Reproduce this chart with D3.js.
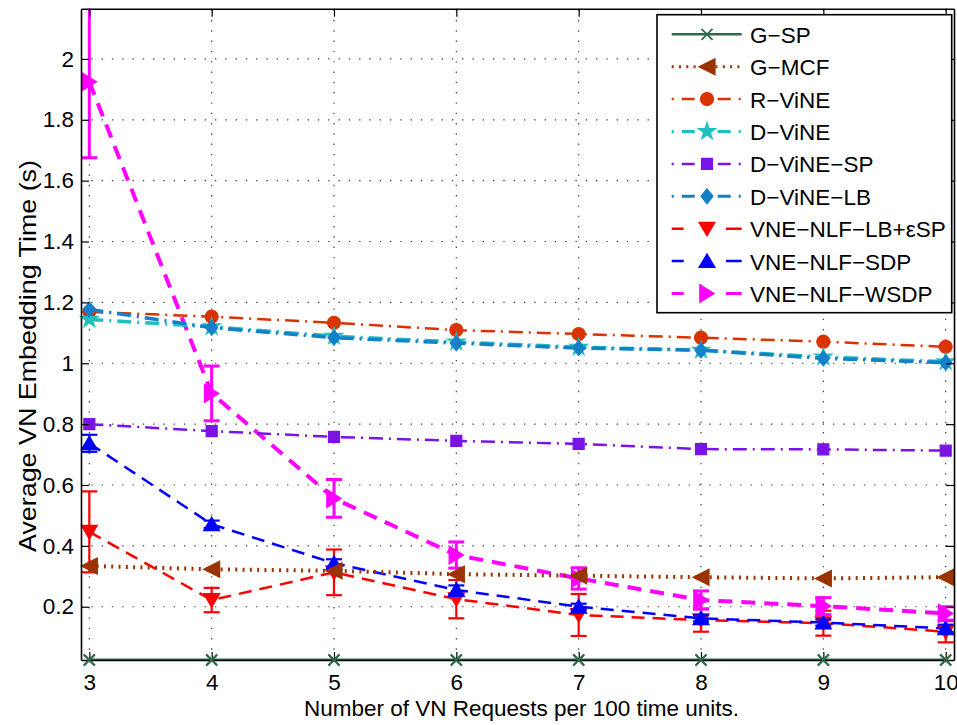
<!DOCTYPE html>
<html>
<head>
<meta charset="utf-8">
<script src="https://cdn.jsdelivr.net/npm/d3@7"></script>
<style>
    body { margin: 0; background: #fff; }
    svg { display: block; font-family: "Liberation Sans", Arial, Helvetica, sans-serif; }
</style>
</head>
<body>
<svg id="chart" width="957" height="725"></svg>
<script>
(function(){
    'use strict';

    /*******************************************************************
     *                              DATA                               *
     *******************************************************************/

    //Number of VN requests per 100 time units (x axis)
    var requests = [3, 4, 5, 6, 7, 8, 9, 10];

    var xTicks = [3, 4, 5, 6, 7, 8, 9, 10];
    var yTicks = [0.2, 0.4, 0.6, 0.8, 1, 1.2, 1.4, 1.6, 1.8, 2];

    //Average embedding time (s)
    var gSp     = [0.025, 0.025, 0.025, 0.025, 0.025, 0.025, 0.025, 0.025];
    var gMcf    = [0.334, 0.323, 0.318, 0.307, 0.302, 0.297, 0.293, 0.297];
    var rVine   = [1.169, 1.153, 1.133, 1.109, 1.096, 1.084, 1.071, 1.054];
    var dVine   = [1.144, 1.120, 1.089, 1.070, 1.053, 1.043, 1.021, 1.005];
    var dVineSp = [0.800, 0.777, 0.758, 0.745, 0.735, 0.718, 0.717, 0.713];
    var dVineLb = [1.177, 1.117, 1.084, 1.066, 1.050, 1.043, 1.016, 1.002];

    //Series with error bars (value, half-length of the bar)
    var nlfLbSp    = [0.446, 0.222, 0.313, 0.225, 0.173, 0.156, 0.146, 0.118];
    var nlfLbSpErr = [0.133, 0.040, 0.075, 0.063, 0.069, 0.038, 0.041, 0.035];
    var nlfSdp     = [0.737, 0.471, 0.343, 0.255, 0.200, 0.162, 0.148, 0.129];
    var nlfSdpErr  = [0.028, 0.012, 0.013, 0.015, 0.010, 0.010, 0.010, 0.012];
    var nlfWsdp    = [1.925, 0.901, 0.556, 0.370, 0.293, 0.222, 0.202, 0.178];
    var nlfWsdpErr = [0.250, 0.090, 0.062, 0.043, 0.035, 0.030, 0.028, 0.022];

    var seriesNames = ['G\u2212SP', 'G\u2212MCF', 'R\u2212ViNE', 'D\u2212ViNE',
                       'D\u2212ViNE\u2212SP', 'D\u2212ViNE\u2212LB',
                       'VNE\u2212NLF\u2212LB+\u03B5SP', 'VNE\u2212NLF\u2212SDP',
                       'VNE\u2212NLF\u2212WSDP'];

    var xLabel = 'Number of VN Requests per 100 time units.';
    var yLabel = 'Average VN Embedding Time (s)';

    /*******************************************************************
     *                            VARIABLES                            *
     *******************************************************************/

    var plot = { left: 81, right: 954, top: 8.7, bottom: 660 };
    var fontSize = 22.5;

    //Dash patterns used in the plot and in the legend samples
    var dashDot = '14 6 2 6';
    var legendDashed = '12 42.3 16 100';
    var legendDashDot = '2 8 13 23 13 8 2 20';

    //Line style for each series, in legend order
    var series = [
        { name: seriesNames[0], values: gSp,     color: '#2e6b4b', width: 3,   dash: null,     legendDash: null,          marker: 'x',       size: 5.5 },
        { name: seriesNames[1], values: gMcf,    color: '#993300', width: 4,   dash: '2 5.3',  legendDash: '2 5.3',       marker: 'left',    size: 8 },
        { name: seriesNames[2], values: rVine,   color: '#d93300', width: 2.5, dash: dashDot,  legendDash: legendDashDot, marker: 'circle',  size: 6.5 },
        { name: seriesNames[3], values: dVine,   color: '#1fbfbf', width: 3.5, dash: dashDot,  legendDash: legendDashDot, marker: 'star',    size: 9 },
        { name: seriesNames[4], values: dVineSp, color: '#7a14e6', width: 2.5, dash: dashDot,  legendDash: legendDashDot, marker: 'square',  size: 5.5 },
        { name: seriesNames[5], values: dVineLb, color: '#1480c8', width: 3.5, dash: dashDot,  legendDash: legendDashDot, marker: 'diamond', size: 7.5 },
        { name: seriesNames[6], values: nlfLbSp, err: nlfLbSpErr, color: '#ff0000', width: 2.5, dash: '13 8', legendDash: legendDashed, marker: 'down',  size: 8 },
        { name: seriesNames[7], values: nlfSdp,  err: nlfSdpErr,  color: '#0000ff', width: 2.5, dash: '13 8', legendDash: legendDashed, marker: 'up',    size: 8 },
        { name: seriesNames[8], values: nlfWsdp, err: nlfWsdpErr, color: '#ff00ff', width: 4,   dash: '14 9', legendDash: legendDashed, marker: 'right', size: 9 }
    ];

    //Error bar series were plotted first, the rest on top
    var drawOrder = [6, 7, 8, 0, 1, 2, 3, 4, 5];

    var svg = d3.select('#chart');

    var xScale = d3.scaleLinear()
        .domain([2.932, 10.068])
        .range([plot.left, plot.right]);

    var yScale = d3.scaleLinear()
        .domain([0.025, 2.165])
        .range([plot.bottom, plot.top]);

    /*******************************************************************
     *                             MARKERS                             *
     *******************************************************************/

    /**
     * Returns a path string for a marker centred on 0,0
     */
    function markerPath(type, s) {
        switch (type) {
            case 'x':
                return 'M' + (-s) + ',' + (-s) + 'L' + s + ',' + s +
                       'M' + (-s) + ',' + s + 'L' + s + ',' + (-s);
            case 'left':
                return 'M' + (-s) + ',0L' + s + ',' + (-s) + 'L' + s + ',' + s + 'Z';
            case 'right':
                return 'M' + (s * 0.8) + ',0L' + (-s * 0.8) + ',' + (-s) + 'L' + (-s * 0.8) + ',' + s + 'Z';
            case 'down':
                return 'M' + (-s) + ',' + (-s * 0.8) + 'L' + s + ',' + (-s * 0.8) + 'L0,' + (s * 0.9) + 'Z';
            case 'up':
                return 'M' + (-s) + ',' + (s * 0.8) + 'L' + s + ',' + (s * 0.8) + 'L0,' + (-s * 0.9) + 'Z';
            case 'diamond':
                return 'M0,' + (-s) + 'L' + (s * 0.8) + ',0L0,' + s + 'L' + (-s * 0.8) + ',0Z';
            case 'square':
                return d3.symbol(d3.symbolSquare, 4 * s * s)();
            case 'star':
                return d3.symbol(d3.symbolStar, s * s / 0.8908)();
            default:
                return d3.symbol(d3.symbolCircle, Math.PI * s * s)();
        }
    }

    function drawMarker(g, s, x, y) {
        var hollow = s.marker === 'x';
        g.append('path')
            .attr('transform', 'translate(' + x + ',' + y + ')')
            .attr('d', markerPath(s.marker, s.size))
            .attr('fill', hollow ? 'none' : s.color)
            .attr('stroke', s.color)
            .attr('stroke-width', hollow ? 1.8 : 1.2)
            .attr('stroke-linejoin', 'miter');
    }

    /*******************************************************************
     *                          AXES AND GRID                          *
     *******************************************************************/

    svg.append('defs').append('clipPath')
        .attr('id', 'plot-clip')
        .append('rect')
        .attr('x', plot.left)
        .attr('y', plot.top)
        .attr('width', plot.right - plot.left)
        .attr('height', plot.bottom - plot.top);

    var grid = svg.append('g')
        .attr('class', 'grid')
        .attr('stroke', '#444')
        .attr('stroke-width', 1.2)
        .attr('stroke-dasharray', '1.4 8.9');

    grid.selectAll('line.gx')
        .data(xTicks)
        .enter()
        .append('line')
        .attr('class', 'gx')
        .attr('x1', function(d) { return xScale(d); })
        .attr('x2', function(d) { return xScale(d); })
        .attr('y1', plot.bottom)
        .attr('y2', plot.top);

    grid.selectAll('line.gy')
        .data(yTicks)
        .enter()
        .append('line')
        .attr('class', 'gy')
        .attr('x1', plot.left)
        .attr('x2', plot.right)
        .attr('y1', function(d) { return yScale(d); })
        .attr('y2', function(d) { return yScale(d); });

    /*******************************************************************
     *                          DRAWING DATA                           *
     *******************************************************************/

    var data = svg.append('g').attr('class', 'data');

    drawOrder.forEach(function(i) {
        var s = series[i];
        var g = data.append('g').attr('class', 'series');

        var line = d3.line()
            .x(function(d, j) { return xScale(requests[j]); })
            .y(function(d) { return yScale(d); });

        g.append('path')
            .datum(s.values)
            .attr('clip-path', 'url(#plot-clip)')
            .attr('d', line)
            .attr('fill', 'none')
            .attr('stroke', s.color)
            .attr('stroke-width', s.width)
            .attr('stroke-dasharray', s.dash);

        //Error bars: vertical line with caps at both ends
        if (s.err) {
            var bars = g.append('g')
                .attr('clip-path', 'url(#plot-clip)')
                .attr('stroke', s.color)
                .attr('stroke-width', s.width > 3 ? 3 : 2.2);

            s.values.forEach(function(v, j) {
                var x = xScale(requests[j]);
                var lo = yScale(v - s.err[j]);
                var hi = yScale(v + s.err[j]);
                bars.append('line').attr('x1', x).attr('x2', x).attr('y1', lo).attr('y2', hi);
                bars.append('line').attr('x1', x - 8).attr('x2', x + 8).attr('y1', lo).attr('y2', lo);
                bars.append('line').attr('x1', x - 8).attr('x2', x + 8).attr('y1', hi).attr('y2', hi);
            });
        }

        s.values.forEach(function(v, j) {
            drawMarker(g, s, xScale(requests[j]), yScale(v));
        });
    });

    //Axis box with inward ticks on all four sides
    function styleAxis(g) {
        g.selectAll('path.domain').attr('stroke', '#000').attr('stroke-width', 1.6);
        g.selectAll('.tick line').attr('stroke', '#000').attr('stroke-width', 1.2);
        g.selectAll('.tick text')
            .attr('fill', '#000')
            .style('font-size', fontSize + 'px')
            .style('font-family', '"Liberation Sans", Arial, sans-serif');
    }

    svg.append('g')
        .attr('transform', 'translate(0,' + plot.bottom + ')')
        .call(d3.axisBottom(xScale).tickValues(xTicks).tickSizeInner(-8).tickSizeOuter(0).tickPadding(14)
            .tickFormat(d3.format('d')))
        .call(styleAxis);

    svg.append('g')
        .attr('transform', 'translate(0,' + plot.top + ')')
        .call(d3.axisTop(xScale).tickValues(xTicks).tickSizeInner(-8).tickSizeOuter(0).tickFormat(''))
        .call(styleAxis);

    svg.append('g')
        .attr('transform', 'translate(' + plot.left + ',0)')
        .call(d3.axisLeft(yScale).tickValues(yTicks).tickSizeInner(-8).tickSizeOuter(0).tickPadding(7)
            .tickFormat(function(d) { return String(+d.toFixed(1)); }))
        .call(styleAxis);

    svg.append('g')
        .attr('transform', 'translate(' + plot.right + ',0)')
        .call(d3.axisRight(yScale).tickValues(yTicks).tickSizeInner(-8).tickSizeOuter(0).tickFormat(''))
        .call(styleAxis);

    //Markers of G-SP sit on the lower edge, draw them over the box
    series[0].values.forEach(function(v, j) {
        drawMarker(svg, series[0], xScale(requests[j]), yScale(v));
    });

    svg.append('text')
        .attr('x', (plot.left + plot.right) / 2 + 4)
        .attr('y', 715.7)
        .attr('text-anchor', 'middle')
        .style('font-size', fontSize + 'px')
        .text(xLabel);

    svg.append('text')
        .attr('transform', 'translate(36,356) rotate(-90)')
        .attr('text-anchor', 'middle')
        .attr('textLength', 392)
        .attr('lengthAdjust', 'spacingAndGlyphs')
        .style('font-size', '24px')
        .text(yLabel);

    /*******************************************************************
     *                             LEGEND                              *
     *******************************************************************/

    var legend = svg.append('g').attr('class', 'legend');

    legend.append('rect')
        .attr('x', 657)
        .attr('y', 14.7)
        .attr('width', 294.7)
        .attr('height', 298)
        .attr('fill', '#fff')
        .attr('stroke', '#000')
        .attr('stroke-width', 1.6);

    series.forEach(function(s, i) {
        var y = 34.3 + i * 32.4;
        var row = legend.append('g');

        row.append('line')
            .attr('x1', 671.7)
            .attr('x2', 741.7)
            .attr('y1', y)
            .attr('y2', y)
            .attr('stroke', s.color)
            .attr('stroke-width', s.width > 3 ? 3 : 2.5)
            .attr('stroke-dasharray', s.legendDash);

        drawMarker(row, s, 707, y);

        row.append('text')
            .attr('x', 750)
            .attr('y', y + 8.5)
            .style('font-size', fontSize + 'px')
            .text(s.name);
    });
})();
</script>
</body>
</html>
